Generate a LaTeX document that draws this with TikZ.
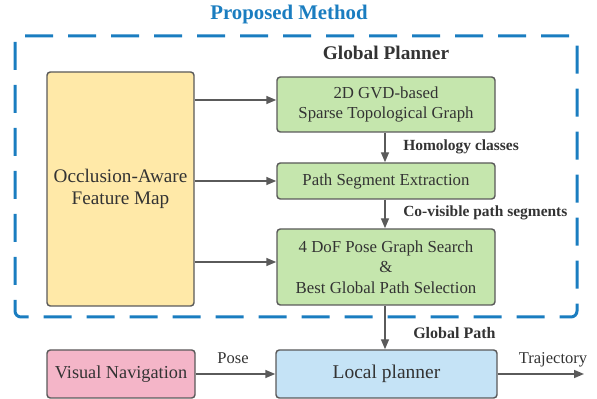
\documentclass[tikz,border=0pt]{standalone}
\usepackage{fontspec}
\setmainfont{Liberation Serif}
\usetikzlibrary{arrows.meta}
\definecolor{pmblue}{HTML}{1A7DC0}
\definecolor{txt}{HTML}{333333}
\definecolor{edge}{HTML}{5A5A5A}
\definecolor{yel}{HTML}{FFE9A8}
\definecolor{grn}{HTML}{C5E6AD}
\definecolor{pnk}{HTML}{F4B5C8}
\definecolor{lblue}{HTML}{C5E3F6}
\tikzset{
  box/.style={draw=edge, line width=1.1pt, rounded corners=2.5pt, align=center, text=txt, inner sep=0pt},
  arr/.style={draw=edge, line width=1.1pt, -{Triangle[length=7.5pt,width=6pt]}},
  lab/.style={text=txt, font=\fontsize{11.6}{13}\selectfont\bfseries, inner sep=0pt},
  plain/.style={text=txt, font=\fontsize{12.4}{14}\selectfont, inner sep=0pt}
}
\begin{document}
\begin{tikzpicture}[x=0.75pt,y=-0.75pt]
\useasboundingbox (0,0) rectangle (597,399);
% title and dashed frame
\node[text=pmblue, font=\fontsize{15.6}{18}\selectfont\bfseries, inner sep=0pt] (title) at (289,15) {Proposed Method};
\draw[pmblue, line width=2.25pt, rounded corners=4.5pt, dash pattern=on 21pt off 11.25pt] (15,36) rectangle (577,317);
\node[text=txt, font=\fontsize{14.5}{17}\selectfont\bfseries, inner sep=0pt] (gp) at (386,53) {Global Planner};
% boxes
\node[box, fill=yel, minimum width=110.25pt, minimum height=175.5pt, font=\fontsize{14.4}{17}\selectfont] (feat) at (120.5,189) {Occlusion-Aware\\Feature Map};
\node[box, fill=grn, minimum width=163.5pt, minimum height=41.25pt, font=\fontsize{12.6}{15}\selectfont] (g1) at (386,104.5) {2D GVD-based\\Sparse Topological Graph};
\node[box, fill=grn, minimum width=163.5pt, minimum height=27pt, font=\fontsize{12.6}{15}\selectfont] (g2) at (386,181) {Path Segment Extraction};
\node[box, fill=grn, minimum width=163.5pt, minimum height=57pt, font=\fontsize{12.6}{15.3}\selectfont] (g3) at (386,267) {4 DoF Pose Graph Search\\\&\\Best Global Path Selection};
\node[box, fill=pnk, minimum width=111pt, minimum height=36pt, font=\fontsize{13.7}{16}\selectfont] (vn) at (121,374) {Visual Navigation};
\node[box, fill=lblue, minimum width=165.75pt, minimum height=36pt, font=\fontsize{14.6}{17}\selectfont] (lp) at (386.5,374) {Local planner};
\coordinate (out) at (584,374);
% connectors
\draw[arr] (feat.east |- 0,100) -- (g1.west |- 0,100);
\draw[arr] (feat.east |- g2.west) -- (g2.west);
\draw[arr] (feat.east |- 0,262) -- (g3.west |- 0,262);
\draw[arr] (g1.south -| 385,0) -- (g2.north -| 385,0);
\draw[arr] (g2.south -| 385,0) -- (g3.north -| 385,0);
\draw[arr] (g3.south -| 385,0) -- (lp.north -| 385,0);
\draw[arr] (vn.east) -- (lp.west);
\draw[arr] (lp.east) -- (out);
% labels
\node[lab, anchor=west] (l1) at (403,147) {Homology classes};
\node[lab, anchor=west] (l2) at (403,213) {Co-visible path segments};
\node[lab, anchor=west, font=\fontsize{12}{14}\selectfont\bfseries] (l3) at (413,333) {Global Path};
\node[plain] (l4) at (233,358) {Pose};
\node[plain] (l5) at (553,360) {Trajectory};
\end{tikzpicture}
\end{document}
